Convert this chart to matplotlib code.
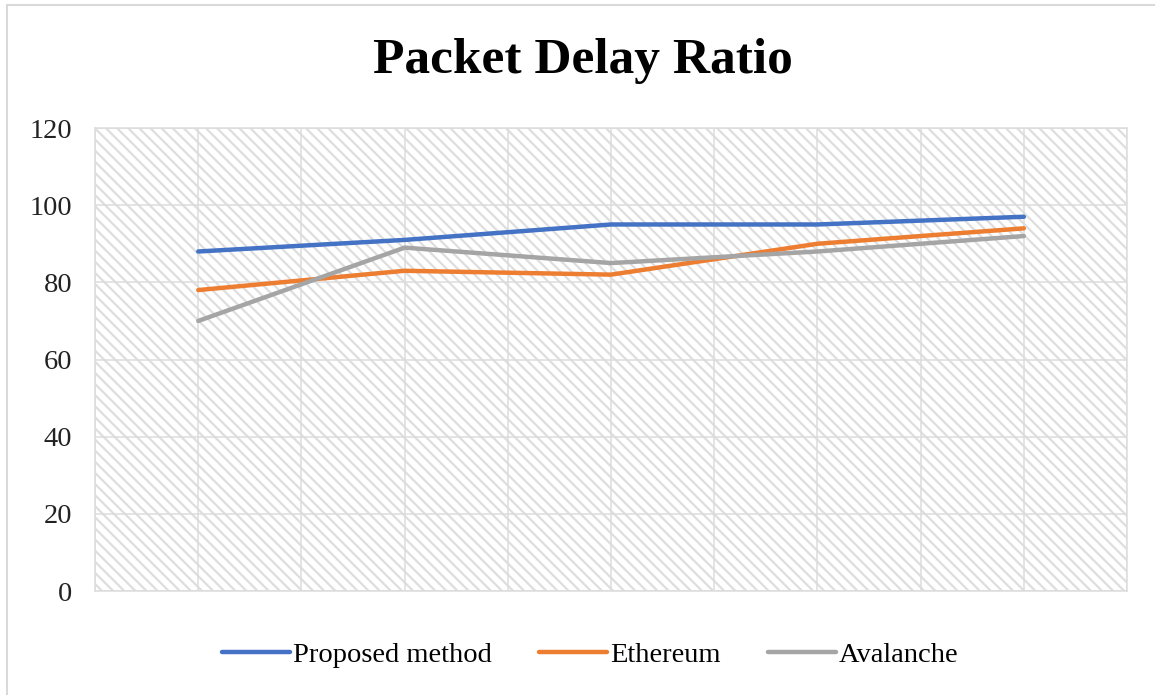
import matplotlib.pyplot as plt
from matplotlib.patches import Rectangle

# Packet delay ratio per scenario
positions = [1, 3, 5, 7, 9]
proposed = [88, 91, 95, 95, 97]
ethereum = [78, 83, 82, 90, 94]
avalanche = [70, 89, 85, 88, 92]
series_names = ['Proposed method', 'Ethereum', 'Avalanche']
series_colors = ['#4472C4', '#ED7D31', '#A5A5A5']
y_ticks = [0, 20, 40, 60, 80, 100, 120]

plt.rcParams['font.family'] = 'Liberation Serif'
plt.rcParams['hatch.linewidth'] = 1.6

fig = plt.figure(figsize=(11.55, 6.95), dpi=100)
ax = fig.add_axes([0.0823, 0.1496, 0.8935, 0.6662])

# hatched plot background
ax.set_facecolor('white')
ax.add_patch(Rectangle((0, 0), 1, 1, transform=ax.transAxes, facecolor='white',
                       edgecolor='#dedede', hatch='\\\\\\', lw=0, zorder=0))

for vals, name, col in zip([proposed, ethereum, avalanche], series_names, series_colors):
    ax.plot(positions, vals, color=col, lw=3.2, label=name, solid_capstyle='round', zorder=3)

ax.set_xlim(0, 10)
ax.set_ylim(0, 120)
ax.set_yticks(y_ticks)
ax.set_xticks(range(0, 11))
ax.set_xticklabels([])
ax.tick_params(axis='both', length=0, labelsize=20.5, colors='#222222', pad=16.5)
ax.grid(True, color='#dcdcdc', lw=1.1, zorder=1)
ax.set_axisbelow(True)
for sp in ax.spines.values():
    sp.set_color('#dcdcdc')
    sp.set_linewidth(1.1)

fig.text(0.505, 0.912, 'Packet Delay Ratio', ha='center', va='center',
         fontsize=37, fontweight='bold')

fig.legend(loc='center', bbox_to_anchor=(0.511, 0.057), ncol=3, frameon=False,
           fontsize=20.5, handlelength=2.4, handletextpad=0.1, columnspacing=1.65)

# outer chart border
fig.add_artist(Rectangle((7 / 1155, -0.05), 1.2, 1 - 5 / 695 + 0.05,
                         transform=fig.transFigure, fill=False,
                         edgecolor='#d9d9d9', lw=1.5))

fig.savefig('out.png', dpi=100)
